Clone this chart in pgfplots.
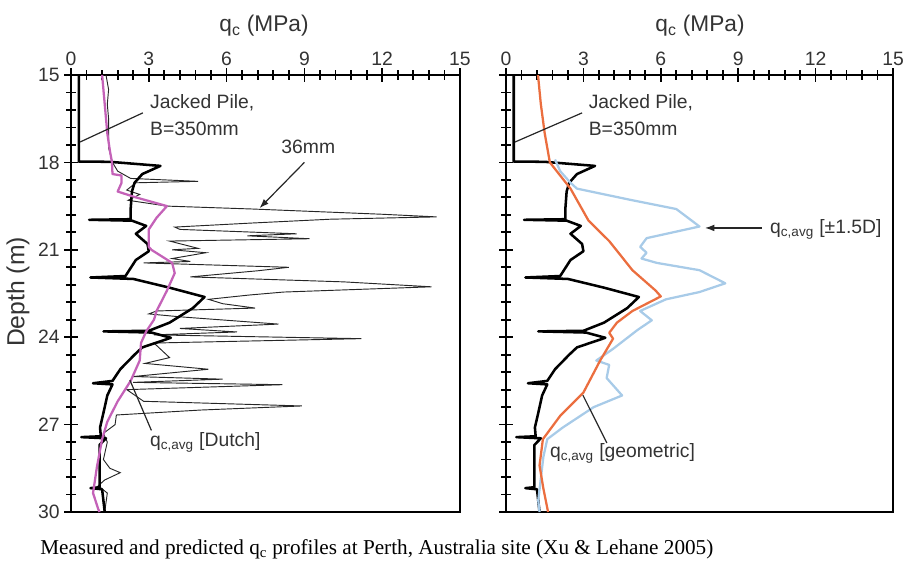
\documentclass[border=0pt]{standalone}
\usepackage{pgfplots}
\pgfplotsset{compat=1.18}
\usepackage{pgfplotstable}
\usepackage{fontspec}
\setmainfont{Liberation Sans}
\newfontfamily\capfont{Liberation Serif}
\usetikzlibrary{arrows.meta}

\definecolor{dutch}{HTML}{C462B8}
\definecolor{geom}{HTML}{EB6E3F}
\definecolor{blu}{HTML}{A8CBE8}
\definecolor{txt}{HTML}{333333}

% jacked pile (x = qc, y = depth)
\pgfplotstableread{
x y
0.3 15.0
0.3 17.97
1.5 17.98
3.45 18.12
2.75 18.4
2.45 18.7
2.35 19.0
2.3 19.6
2.3 19.95
0.7 19.97
2.35 20.0
2.9 20.18
2.5 20.45
2.95 20.8
3.0 21.05
2.5 21.35
2.1 21.9
0.75 21.95
2.4 22.0
3.8 22.3
5.15 22.62
4.7 23.0
3.8 23.5
3.0 23.78
1.25 23.8
3.1 23.84
3.85 24.02
2.75 24.35
2.45 24.6
1.9 25.1
1.6 25.5
0.85 25.58
1.6 25.62
1.4 26.0
1.25 26.6
1.12 27.1
1.15 27.4
0.4 27.43
1.35 27.47
1.1 27.7
1.1 29.15
0.75 29.18
1.2 29.22
1.3 30.0
}\jacked

% 36 mm CPT
\pgfplotstableread{
x y
1.35 15.0
1.45 15.5
1.4 16.0
1.45 16.5
1.45 17.0
1.45 17.5
1.6 18.0
1.8 18.3
2.3 18.55
4.9 18.65
2.5 18.7
2.15 18.95
2.65 19.1
2.2 19.3
3.7 19.5
7.0 19.6
12.0 19.78
14.1 19.87
10.0 19.95
7.0 20.08
4.0 20.22
4.2 20.3
8.7 20.45
6.8 20.52
9.2 20.62
3.8 20.7
4.9 20.95
3.9 21.0
5.2 21.1
3.9 21.3
4.6 21.4
2.8 21.45
8.4 21.6
7.2 21.72
4.6 21.93
10.5 22.1
13.9 22.27
8.2 22.45
6.9 22.55
5.3 22.7
5.85 22.85
7.1 23.0
3.3 23.1
3.0 23.2
4.2 23.3
8.0 23.55
4.2 23.7
6.4 23.82
3.2 23.92
11.2 24.05
3.2 24.2
3.8 24.7
2.85 24.9
5.3 25.1
2.4 25.35
5.85 25.44
2.4 25.55
8.15 25.63
2.15 25.8
2.8 26.2
8.9 26.36
5.0 26.5
1.75 26.67
1.7 27.0
1.25 27.3
1.4 27.6
1.25 28.2
1.5 28.5
1.9 28.65
1.3 28.9
1.05 29.1
1.4 29.35
1.3 30.0
}\thin

% qc,avg Dutch
\pgfplotstableread{
x y
1.2 15.0
1.3 16.0
1.4 17.0
1.5 17.6
1.58 18.0
1.6 18.4
1.95 18.45
1.95 18.7
1.8 19.0
2.5 19.2
3.3 19.4
3.7 19.5
3.3 19.9
3.0 20.3
3.0 20.9
3.1 21.0
3.9 21.45
4.0 21.8
3.7 22.4
3.3 23.1
3.2 23.4
2.9 23.8
2.7 24.2
2.65 24.8
2.3 25.5
1.8 26.2
1.4 26.9
1.2 27.5
1.0 28.45
0.85 29.35
1.05 29.9
1.1 30.0
}\dutch

% qc,avg geometric
\pgfplotstableread{
x y
1.24 15.0
1.35 16.0
1.5 17.0
1.7 18.0
2.5 18.9
3.2 20.0
4.0 20.7
4.9 21.7
5.8 22.4
6.0 22.6
4.9 23.1
4.3 23.5
4.0 23.85
4.15 24.05
3.65 24.8
3.0 25.9
2.1 26.7
1.43 27.5
1.3 28.4
1.45 29.2
1.63 30.0
}\geometric

% qc,avg +-1.5D
\pgfplotstableread{
x y
1.9 17.9
2.1 18.3
2.5 18.7
2.75 18.9
4.9 19.3
6.6 19.6
7.5 20.2
5.45 20.6
5.2 20.9
5.45 21.1
5.25 21.3
5.85 21.45
7.5 21.7
8.5 22.15
7.5 22.45
6.2 22.7
5.2 23.1
5.65 23.42
5.1 23.75
4.15 24.4
3.5 24.8
4.0 24.95
3.9 25.4
4.5 26.0
3.4 26.4
2.2 27.1
1.6 27.5
1.45 28.1
1.25 29.6
1.3 30.0
}\onefive

\tikzset{ann/.style={font=\fontsize{14.5}{17}\selectfont, text=txt, inner sep=0pt}}

\begin{document}
\begin{tikzpicture}
\useasboundingbox (0,0) rectangle (678pt,-422.25pt);

\begin{axis}[
  scale only axis, width=291.75pt, height=327.75pt,
  at={(53.25pt,-56.25pt)}, anchor=north west,
  xmin=0, xmax=15, ymin=15, ymax=30, y dir=reverse,
  xtick={0,3,...,15}, ytick={15,18,...,30},
  minor x tick num=4, minor y tick num=4,
  xtick pos=right, xticklabel pos=right, ytick pos=left,
  tick align=center, major tick length=10pt, minor tick length=7pt,
  tick style={draw=black, line width=1.3pt},
  axis line style={line width=1pt},
  tick label style={font=\fontsize{14.5}{17}\selectfont, text=txt},
  /pgf/number format/assume math mode=true,
  xticklabel style={anchor=base, yshift=2pt},
  yticklabel style={anchor=east},
]
\addplot[draw=black!85, line width=0.7pt] table {\thin};
\addplot[draw=black, line width=1.9pt, line join=round] table {\jacked};
\addplot[draw=dutch, line width=1.7pt, line join=round] table {\dutch};
\node[ann, anchor=west] at (axis cs:3.04,15.96) {Jacked Pile,};
\node[ann, anchor=west] at (axis cs:3.04,16.85) {B=350mm};
\draw[line width=0.9pt, black!85] (axis cs:2.77,16.3) -- (axis cs:0.35,17.3);
\node[ann] at (axis cs:9.15,17.45) {36mm};
\draw[line width=0.9pt, black!85, -{Latex[length=7pt,width=5pt]}] (axis cs:9.0,18.0) -- (axis cs:7.27,19.57);
\node[ann, anchor=west] at (axis cs:3.04,27.6) {q\textsubscript{c,avg} [Dutch]};
\draw[line width=0.9pt, black!85] (axis cs:3.1,27.2) -- (axis cs:2.27,25.47);
\end{axis}

\begin{axis}[
  scale only axis, width=290.25pt, height=327.75pt,
  at={(379.5pt,-56.25pt)}, anchor=north west,
  xmin=0, xmax=15, ymin=15, ymax=30, y dir=reverse,
  xtick={0,3,...,15}, ytick={15,18,...,30}, yticklabels={},
  minor x tick num=4, minor y tick num=4,
  xtick pos=right, xticklabel pos=right, ytick pos=left,
  tick align=center, major tick length=10pt, minor tick length=7pt,
  tick style={draw=black, line width=1.3pt},
  axis line style={line width=1pt},
  tick label style={font=\fontsize{14.5}{17}\selectfont, text=txt},
  /pgf/number format/assume math mode=true,
  xticklabel style={anchor=base, yshift=2pt},
]
\addplot[draw=black, line width=1.9pt, line join=round] table {\jacked};
\addplot[draw=blu, line width=1.7pt, line join=round] table {\onefive};
\addplot[draw=geom, line width=1.7pt, line join=round] table {\geometric};
\node[ann, anchor=west] at (axis cs:3.2,15.96) {Jacked Pile,};
\node[ann, anchor=west] at (axis cs:3.2,16.85) {B=350mm};
\draw[line width=0.9pt, black!85] (axis cs:2.95,16.3) -- (axis cs:0.35,17.3);
\node[ann, anchor=west] at (axis cs:10.23,20.3) {q\textsubscript{c,avg} [\char"00B1 1.5D]};
\draw[line width=0.9pt, black!85, -{Latex[length=7pt,width=5pt]}] (axis cs:9.92,20.25) -- (axis cs:7.71,20.25);
\node[ann, anchor=west] at (axis cs:1.7,27.98) {q\textsubscript{c,avg} [geometric]};
\draw[line width=0.9pt, black!85] (axis cs:3.91,27.63) -- (axis cs:2.98,25.99);
\end{axis}

\node[ann, anchor=base, font=\fontsize{17}{20}\selectfont] at (198pt,-24pt) {q\textsubscript{c} (MPa)};
\node[ann, anchor=base, font=\fontsize{17}{20}\selectfont] at (525pt,-24pt) {q\textsubscript{c} (MPa)};
\node[ann, rotate=90, font=\fontsize{18.5}{21}\selectfont] at (13.5pt,-219pt) {Depth (m)};
\node[anchor=west, inner sep=0pt, font=\capfont\fontsize{15.9}{18}\selectfont] at (30pt,-411.75pt) {Measured and predicted q\textsubscript{c} profiles at Perth, Australia site (Xu \& Lehane 2005)};
\end{tikzpicture}
\end{document}
